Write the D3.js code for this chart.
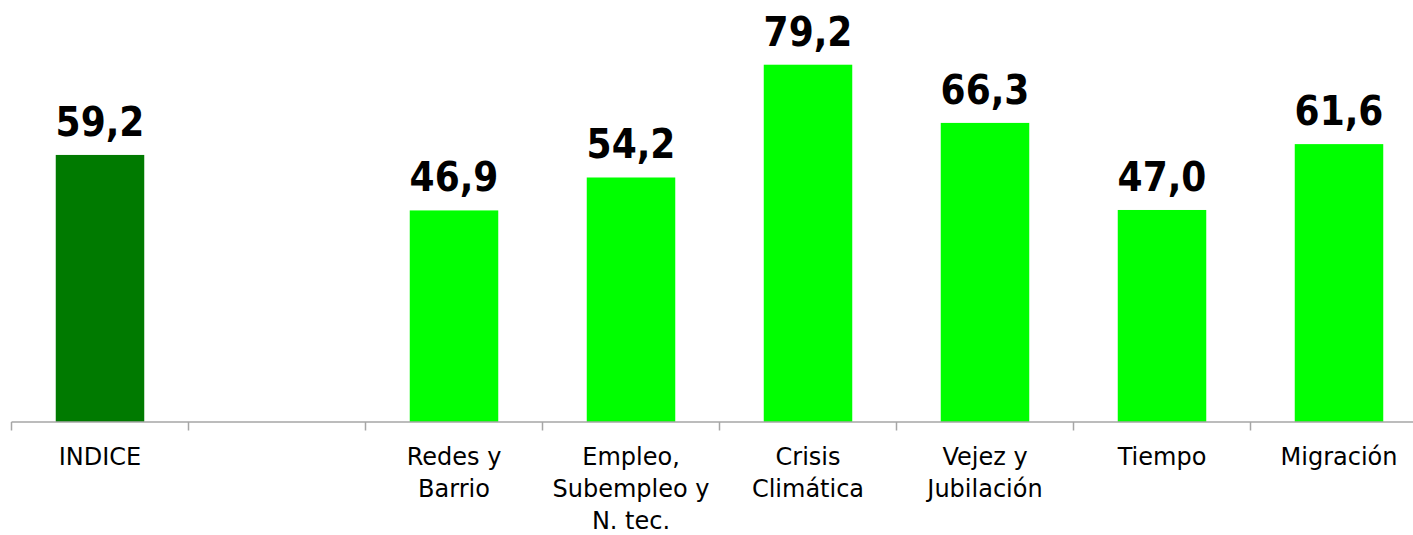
<!DOCTYPE html>
<html>
<head>
<meta charset="utf-8">
<script src="https://cdn.jsdelivr.net/npm/d3@7"></script>
<style>
  html, body { margin: 0; padding: 0; background: #ffffff; overflow: hidden; }
  svg { display: block; }
</style>
</head>
<body>
<svg id="chart" width="1413" height="535"></svg>
<script>
// ---- Data ----
const categories = ["INDICE", "", "Redes y\nBarrio", "Empleo,\nSubempleo y\nN. tec.", "Crisis\nClimática", "Vejez y\nJubilación", "Tiempo", "Migración"];
const values = [59.2, null, 46.9, 54.2, 79.2, 66.3, 47.0, 61.6];
const barColors = ["#007a00", "#00ff00", "#00ff00", "#00ff00", "#00ff00", "#00ff00", "#00ff00", "#00ff00"];
const yDomain = [0, 90];

// ---- Layout ----
const svg = d3.select("#chart");
const plotLeft = 11.5, plotStep = 177, plotBase = 422, plotTop = 16;

const x = d3.scaleBand()
  .domain(categories.map((c, i) => i))
  .range([plotLeft, plotLeft + plotStep * categories.length])
  .padding(0);

const y = d3.scaleLinear().domain(yDomain).range([plotBase, plotTop]);

const locale = d3.formatLocale({ decimal: ",", thousands: ".", grouping: [3], currency: ["", ""] });
const fmt = locale.format(".1f");

const data = categories.map((c, i) => ({ i, cat: c, v: values[i], color: barColors[i] }));
const barW = x.bandwidth() * 0.5;

// Bars
svg.append("g").selectAll("rect")
  .data(data.filter(d => d.v != null))
  .join("rect")
  .attr("x", d => x(d.i) + (x.bandwidth() - barW) / 2)
  .attr("y", d => y(d.v))
  .attr("width", barW)
  .attr("height", d => y(0) - y(d.v))
  .attr("fill", d => d.color);

// Value labels
svg.append("g").selectAll("text")
  .data(data.filter(d => d.v != null))
  .join("text")
  .attr("x", d => x(d.i) + x.bandwidth() / 2)
  .attr("y", d => y(d.v) - 19)
  .attr("text-anchor", "middle")
  .attr("font-family", "'DejaVu Sans Condensed', 'DejaVu Sans', sans-serif")
  .style("font-stretch", "condensed")
  .attr("font-weight", "bold")
  .attr("font-size", 40)
  .attr("fill", "#000")
  .text(d => fmt(d.v));

// Axis line and boundary ticks
const axisG = svg.append("g");
const boundaries = d3.range(categories.length + 1).map(k => plotLeft + k * x.step());
axisG.append("line")
  .attr("x1", plotLeft).attr("x2", plotLeft + plotStep * categories.length)
  .attr("y1", y(0)).attr("y2", y(0))
  .attr("stroke", "#a6a6a6").attr("stroke-width", 1.5);
axisG.selectAll("line.tick")
  .data(boundaries)
  .join("line")
  .attr("class", "tick")
  .attr("x1", d => d).attr("x2", d => d)
  .attr("y1", y(0)).attr("y2", y(0) + 8.5)
  .attr("stroke", "#a6a6a6").attr("stroke-width", 1.5);

// Category labels
const labels = svg.append("g").selectAll("text")
  .data(data)
  .join("text")
  .attr("x", d => x(d.i) + x.bandwidth() / 2)
  .attr("y", 465)
  .attr("text-anchor", "middle")
  .attr("font-family", "'DejaVu Sans', sans-serif")
  .attr("font-size", 24)
  .attr("fill", "#000");
labels.each(function(d) {
  const t = d3.select(this);
  d.cat.split("\n").forEach((line, k) => {
    t.append("tspan")
      .attr("x", x(d.i) + x.bandwidth() / 2)
      .attr("dy", k === 0 ? 0 : 32)
      .text(line);
  });
});
</script>
</body>
</html>
